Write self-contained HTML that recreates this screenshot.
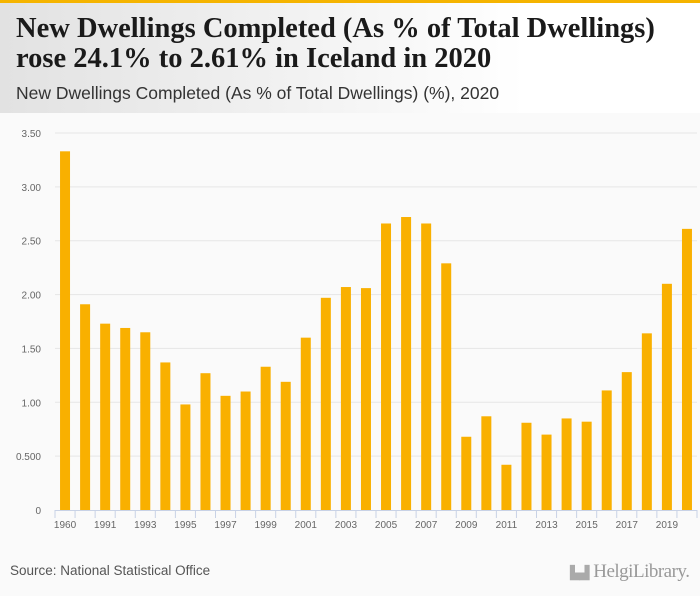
<!DOCTYPE html>
<html><head><meta charset="utf-8"><style>
html,body{margin:0;width:700px;height:596px;overflow:hidden}
body{background:#fafafa;font-family:"Liberation Sans",sans-serif;position:relative}
#hdr{position:absolute;left:0;top:0;width:700px;height:113px;border-top:3px solid #f5b400;box-sizing:border-box;background:linear-gradient(90deg,#e2e2e2 0%,#f3f3f3 45%,#ffffff 75%)}
#title{position:absolute;left:16px;top:11px;font-family:"Liberation Serif",serif;font-weight:bold;font-size:28.5px;line-height:30px;color:#1a1a1a;white-space:nowrap}
#sub{position:absolute;left:16px;top:80px;font-size:17.5px;color:#333;white-space:nowrap}
#src{position:absolute;left:10px;top:563px;font-size:13.5px;color:#555;white-space:nowrap}
#logo{position:absolute;left:570px;top:561px;font-family:"Liberation Serif",serif;font-size:19px;color:#999;letter-spacing:-0.5px;white-space:nowrap}
</style></head><body>
<div id="hdr">
<div id="title">New Dwellings Completed (As % of Total Dwellings)<br>rose 24.1% to 2.61% in Iceland in 2020</div>
<div id="sub">New Dwellings Completed (As % of Total Dwellings) (%), 2020</div>
</div>
<svg id="chart" width="700" height="596" style="position:absolute;left:0;top:0"></svg>
<div id="src">Source: National Statistical Office</div>
<div id="logo"><span style="font-size:13px;color:#aaa">▙▟</span> HelgiLibrary.</div>
<script>
const categories=["1960","1990","1991","1992","1993","1994","1995","1996","1997","1998","1999","2000","2001","2002","2003","2004","2005","2006","2007","2008","2009","2010","2011","2012","2013","2014","2015","2016","2017","2018","2019","2020"];
const values=[3.33,1.91,1.73,1.69,1.65,1.37,0.98,1.27,1.06,1.10,1.33,1.19,1.60,1.97,2.07,2.06,2.66,2.72,2.66,2.29,0.68,0.87,0.42,0.81,0.70,0.85,0.82,1.11,1.28,1.64,2.10,2.61];
const yTicks=[0,0.5,1,1.5,2,2.5,3,3.5];
const yTickLabels=["0","0.500","1.00","1.50","2.00","2.50","3.00","3.50"];
const NS="http://www.w3.org/2000/svg";
const svg=document.getElementById('chart');
const x0=55,x1=697,y0=510,yTop=133,yMax=3.5;
const band=(x1-x0)/categories.length;
const y=v=>y0-(v/yMax)*(y0-yTop);
const xc=i=>x0+band*(i+0.5);
function mk(t,a){const e=document.createElementNS(NS,t);for(const k in a)e.setAttribute(k,a[k]);svg.appendChild(e);return e;}
yTicks.forEach((t,i)=>{
 if(t>0){const g=mk('line',{x1:x0,x2:x1,y1:y(t),y2:y(t),stroke:'#e6e6e6','stroke-width':1});
 
 }
 const l=mk('text',{x:41,y:y(t)+4,'text-anchor':'end','font-size':10,fill:'#666','font-family':'Liberation Sans, sans-serif'});
 l.textContent=yTickLabels[i];
 
 
});
values.forEach((v,i)=>{
 const r=mk('rect',{x:xc(i)-5,y:y(v),width:10,height:y0-y(v),fill:'#f9b000'});
 
 
});
const ax=mk('line',{x1:x0,x2:x1,y1:y0+0.5,y2:y0+0.5,stroke:'#c8d2e6'});


for(let i=0;i<=categories.length;i++){
 const tk=mk('line',{x1:x0+band*i,x2:x0+band*i,y1:y0,y2:y0+8,stroke:'#c8d2e6'});
 
 
}
categories.forEach((c,i)=>{
 if(i%2)return;
 const l=mk('text',{x:xc(i),y:y0+18,'text-anchor':'middle','font-size':10,fill:'#666','font-family':'Liberation Sans, sans-serif'});
 l.textContent=c;
 
 
});
</script>
</body></html>
